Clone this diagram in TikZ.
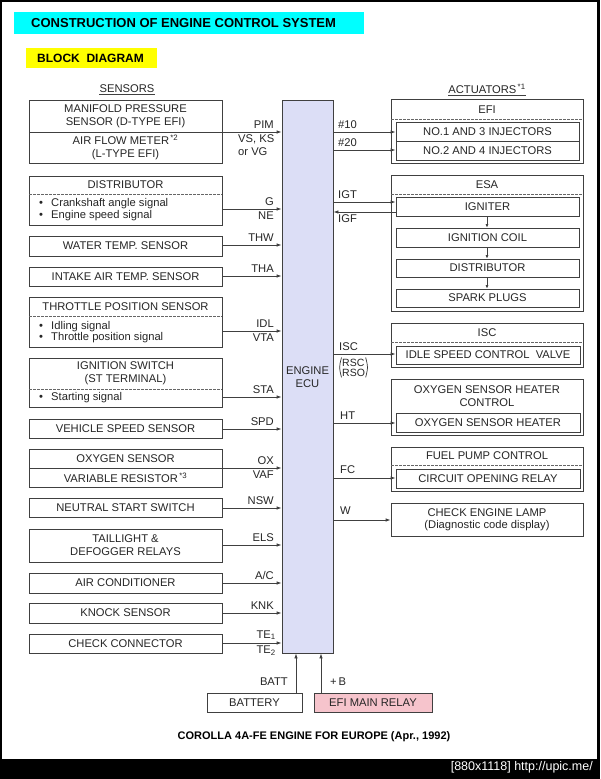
\documentclass[tikz,border=0pt]{standalone}
\usepackage{fontspec}
\setmainfont{Liberation Sans}
\usetikzlibrary{arrows.meta,fit}
\newcommand\myfs{\fontsize{11.2}{12.5}\selectfont}
\definecolor{ecublue}{RGB}{220,222,246}
\definecolor{relaypink}{RGB}{246,196,204}
\definecolor{hdrcyan}{RGB}{0,255,255}
\definecolor{hdryellow}{RGB}{255,255,0}
\begin{document}
\begin{tikzpicture}[x=1pt,y=-1pt,
  every node/.style={font=\myfs, text=black!85, inner sep=0pt},
  bx/.style={draw=black!75, line width=0.8pt, rectangle, inner sep=0pt},
  ln/.style={draw=black!75, line width=0.8pt},
  arr/.style={draw=black!75, line width=0.8pt, -{Latex[length=5pt,width=3.5pt]}},
  dsh/.style={draw=black!60, line width=0.7pt, dash pattern=on 2.5pt off 1.5pt},
  ttl/.style={align=center, font=\myfs}]
\useasboundingbox (0,0) rectangle (600,779);
\fill[black] (0,0) rectangle (600,779);
\fill[white] (2,2) rectangle (597,759);

% headers
\node[fill=hdrcyan, fit={(14,12) (364,34)}] (hdr) {};
\node[anchor=west, font=\bfseries\fontsize{13}{14}\selectfont, text=black] (hdrt) at (31,23.5) {CONSTRUCTION OF ENGINE CONTROL SYSTEM};
\node[fill=hdryellow, fit={(26,48) (157,68)}] (blk) {};
\node[anchor=west, font=\bfseries\fontsize{12}{13}\selectfont, text=black] (blkt) at (37,58.5) {BLOCK\ \ DIAGRAM};

\node (sens) at (127,89) {SENSORS};
\draw[ln, line width=0.6pt] ([yshift=-1.5pt]sens.south west) -- ([yshift=-1.5pt]sens.south east);
\node (act) at (487,89) {ACTUATORS\textsuperscript{\,*1}};
\draw[ln, line width=0.6pt] ([yshift=-1.5pt]act.south west) -- ([yshift=-1.5pt]act.south east);

% ECU
\node[bx, fill=ecublue, fit={(282,100) (333,653)}] (ecu) {};
\node[ttl] (ecut) at (307.5,377) {ENGINE\\ECU};

% ---------------- sensors ----------------
\node[bx, fit={(29,100) (222,163)}] (map) {};
\draw[ln] (29,132) -- (222,132);
\node[ttl] (mapt) at (125.5,116) {MANIFOLD PRESSURE\\SENSOR (D-TYPE EFI)};
\node[ttl] (afmt) at (125.5,147.5) {AIR FLOW METER\textsuperscript{\,*2}\\(L-TYPE EFI)};

\node[bx, fit={(29,176) (222,225)}] (dist) {};
\draw[dsh] (29,194) -- (222,194);
\node (distt) at (125.5,185) {DISTRIBUTOR};
\node (b1) at (41,204) {•};
\node[anchor=west] (b1t) at (51,204) {Crankshaft angle signal};
\node (b2) at (41,216) {•};
\node[anchor=west] (b2t) at (51,216) {Engine speed signal};

\node[bx, fit={(29,236) (222,256)}] (wat) {};
\node (watt) at (125.5,246) {WATER TEMP. SENSOR};

\node[bx, fit={(29,267) (222,286)}] (int) {};
\node (intt) at (125.5,276.5) {INTAKE AIR TEMP. SENSOR};

\node[bx, fit={(29,297) (222,347)}] (thr) {};
\draw[dsh] (29,316) -- (222,316);
\node (thrt) at (125.5,307) {THROTTLE POSITION SENSOR};
\node (b3) at (41,327) {•};
\node[anchor=west] (b3t) at (51,327) {Idling signal};
\node (b4) at (41,338) {•};
\node[anchor=west] (b4t) at (51,338) {Throttle position signal};

\node[bx, fit={(29,358) (222,407)}] (ign) {};
\draw[dsh] (29,389) -- (222,389);
\node[ttl] (ignt) at (125.5,373) {IGNITION SWITCH\\(ST TERMINAL)};
\node (b5) at (41,398) {•};
\node[anchor=west] (b5t) at (51,398) {Starting signal};

\node[bx, fit={(29,419) (222,438)}] (spd) {};
\node (spdt) at (125.5,428.5) {VEHICLE SPEED SENSOR};

\node[bx, fit={(29,449) (222,487)}] (oxy) {};
\draw[ln] (29,468) -- (222,468);
\node (oxyt) at (125.5,459) {OXYGEN SENSOR};
\node (vart) at (125.5,478) {VARIABLE RESISTOR\textsuperscript{\,*3}};

\node[bx, fit={(29,498) (222,517)}] (nsw) {};
\node (nswt) at (125.5,507.5) {NEUTRAL START SWITCH};

\node[bx, fit={(29,529) (222,562)}] (tail) {};
\node[ttl] (tailt) at (125.5,545) {TAILLIGHT \&\\DEFOGGER RELAYS};

\node[bx, fit={(29,573) (222,593)}] (ac) {};
\node (act2) at (125.5,583) {AIR CONDITIONER};

\node[bx, fit={(29,603) (222,623)}] (knk) {};
\node (knkt) at (125.5,613) {KNOCK SENSOR};

\node[bx, fit={(29,634) (222,653)}] (chk) {};
\node (chkt) at (125.5,643.5) {CHECK CONNECTOR};

% sensor arrows
\draw[arr] (map.east |- 0,132) -- (ecu.west |- 0,132);
\node[anchor=south east] (lpim) at (274,129) {PIM};
\node[anchor=north west, align=left] (lvs) at (238,134.5) {VS, KS\\or VG};
\draw[arr] (dist.east |- 0,209) -- (ecu.west |- 0,209);
\node[anchor=south east] (lg) at (274,206) {G};
\node[anchor=north east] (lne) at (274,212) {NE};
\draw[arr] (wat.east |- 0,245) -- (ecu.west |- 0,245);
\node[anchor=south east] (lthw) at (274,242) {THW};
\draw[arr] (int.east |- 0,276) -- (ecu.west |- 0,276);
\node[anchor=south east] (ltha) at (274,273) {THA};
\draw[arr] (thr.east |- 0,331) -- (ecu.west |- 0,331);
\node[anchor=south east] (lidl) at (274,328) {IDL};
\node[anchor=north east] (lvta) at (274,334) {VTA};
\draw[arr] (ign.east |- 0,397) -- (ecu.west |- 0,397);
\node[anchor=south east] (lsta) at (274,394) {STA};
\draw[arr] (spd.east |- 0,429) -- (ecu.west |- 0,429);
\node[anchor=south east] (lspd) at (274,426) {SPD};
\draw[arr] (oxy.east |- 0,468) -- (ecu.west |- 0,468);
\node[anchor=south east] (lox) at (274,465) {OX};
\node[anchor=north east] (lvaf) at (274,471) {VAF};
\draw[arr] (nsw.east |- 0,508) -- (ecu.west |- 0,508);
\node[anchor=south east] (lnsw) at (274,505) {NSW};
\draw[arr] (tail.east |- 0,545) -- (ecu.west |- 0,545);
\node[anchor=south east] (lels) at (274,542) {ELS};
\draw[arr] (ac.east |- 0,583) -- (ecu.west |- 0,583);
\node[anchor=south east] (lac) at (274,580) {A/C};
\draw[arr] (knk.east |- 0,613) -- (ecu.west |- 0,613);
\node[anchor=south east] (lknk) at (274,610) {KNK};
\draw[arr] (chk.east |- 0,643) -- (ecu.west |- 0,643);
\node[anchor=south east] (lte1) at (276,640) {TE\textsubscript{1}};
\node[anchor=north east] (lte2) at (276,646) {TE\textsubscript{2}};

% power
\node[bx, fit={(207,693) (302,712)}] (bat) {};
\node (batt) at (254.5,702.5) {BATTERY};
\node[bx, fill=relaypink, fit={(314,693) (432,712)}] (rel) {};
\node (relt) at (373,702.5) {EFI MAIN RELAY};
\draw[arr] (bat.north -| 296,0) -- (ecu.south -| 296,0);
\draw[arr] (rel.north -| 321,0) -- (ecu.south -| 321,0);
\node[anchor=east] (lbatt) at (288,681.5) {BATT};
\node[anchor=west] (lb) at (330,681.5) {+\,B};

% ---------------- actuators ----------------
\node[bx, fit={(391,99) (583,163)}] (efi) {};
\draw[dsh] (391,119) -- (583,119);
\node (efit) at (487,110) {EFI};
\node[bx, fit={(396,122) (579,141)}] (inj1) {};
\node (inj1t) at (487.5,131.5) {NO.1 AND 3 INJECTORS};
\node[bx, fit={(396,141) (579,160)}] (inj2) {};
\node (inj2t) at (487.5,150.5) {NO.2 AND 4 INJECTORS};
\draw[arr] (ecu.east |- 0,132) -- (inj1.west |- 0,132);
\node[anchor=south west] (l10) at (338,129) {\#10};
\draw[arr] (ecu.east |- 0,150) -- (inj2.west |- 0,150);
\node[anchor=south west] (l20) at (338,147) {\#20};

\node[bx, fit={(391,175) (583,311)}] (esa) {};
\draw[dsh] (391,194) -- (583,194);
\node (esat) at (487,185) {ESA};
\node[bx, fit={(396,197) (579,216)}] (igr) {};
\node (igrt) at (487.5,206.5) {IGNITER};
\node[bx, fit={(396,228) (579,247)}] (coil) {};
\node (coilt) at (487.5,237.5) {IGNITION COIL};
\node[bx, fit={(396,259) (579,277)}] (dst) {};
\node (dstt) at (487.5,268) {DISTRIBUTOR};
\node[bx, fit={(396,289) (579,307)}] (plg) {};
\node (plgt) at (487.5,298) {SPARK PLUGS};
\draw[arr, -{Latex[length=3.5pt,width=3pt]}] (igr.south -| 487,0) -- (coil.north -| 487,0);
\draw[arr, -{Latex[length=3.5pt,width=3pt]}] (coil.south -| 487,0) -- (dst.north -| 487,0);
\draw[arr, -{Latex[length=3.5pt,width=3pt]}] (dst.south -| 487,0) -- (plg.north -| 487,0);
\draw[arr] (ecu.east |- 0,202) -- (igr.west |- 0,202);
\node[anchor=south west] (ligt) at (338,199) {IGT};
\draw[arr] (igr.west |- 0,212) -- (ecu.east |- 0,212);
\node[anchor=north west] (ligf) at (338,214) {IGF};

\node[bx, fit={(391,323) (583,367)}] (isc) {};
\draw[dsh] (391,342) -- (583,342);
\node (isct) at (487,333) {ISC};
\node[bx, fit={(396,346) (580,364)}] (iscv) {};
\node (iscvt) at (488,355) {IDLE SPEED CONTROL\ \ VALVE};
\draw[arr] (ecu.east |- 0,354) -- (iscv.west |- 0,354);
\node[anchor=south west] (lisc) at (339,350.5) {ISC};
\node[anchor=north west, align=left, font=\fontsize{10.5}{10}\selectfont] (lrsc) at (342,358.5) {RSC\\RSO};
\draw[line width=0.7pt, black!80] ([xshift=-0.5pt,yshift=1pt]lrsc.north west) .. controls ([xshift=-3pt]lrsc.west) .. ([xshift=-0.5pt,yshift=-1pt]lrsc.south west);
\draw[line width=0.7pt, black!80] ([xshift=0.5pt,yshift=1pt]lrsc.north east) .. controls ([xshift=3pt]lrsc.east) .. ([xshift=0.5pt,yshift=-1pt]lrsc.south east);

\node[bx, fit={(391,379) (583,435)}] (o2h) {};
\node[ttl] (o2ht) at (487,396) {OXYGEN SENSOR HEATER\\CONTROL};
\node[bx, fit={(396,413) (580,432)}] (o2hi) {};
\node (o2hit) at (488,422.5) {OXYGEN SENSOR HEATER};
\draw[arr] (ecu.east |- 0,423) -- (o2hi.west |- 0,423);
\node[anchor=south west] (lht) at (340,420) {HT};

\node[bx, fit={(391,447) (583,491)}] (fp) {};
\draw[dsh] (391,465) -- (583,465);
\node (fpt) at (487,456) {FUEL PUMP CONTROL};
\node[bx, fit={(396,469) (580,488)}] (cor) {};
\node (cort) at (488,478.5) {CIRCUIT OPENING RELAY};
\draw[arr] (ecu.east |- 0,478) -- (cor.west |- 0,478);
\node[anchor=south west] (lfc) at (340,474) {FC};

\node[bx, fit={(391,503) (583,536)}] (cel) {};
\node[ttl] (celt) at (487,519.5) {CHECK ENGINE LAMP\\(Diagnostic code display)};
\draw[arr] (ecu.east |- 0,520) -- (cel.west |- 0,520);
\node[anchor=south west] (lw) at (340,515) {W};

% footer
\node[font=\bfseries\fontsize{11}{12}\selectfont, text=black] (foot) at (314,737) {COROLLA 4A-FE ENGINE FOR EUROPE (Apr., 1992)};
\node[anchor=east, text=white, font=\fontsize{12.5}{13}\selectfont] (wm) at (593,767.5) {[880x1118] http://upic.me/};
\end{tikzpicture}
\end{document}
